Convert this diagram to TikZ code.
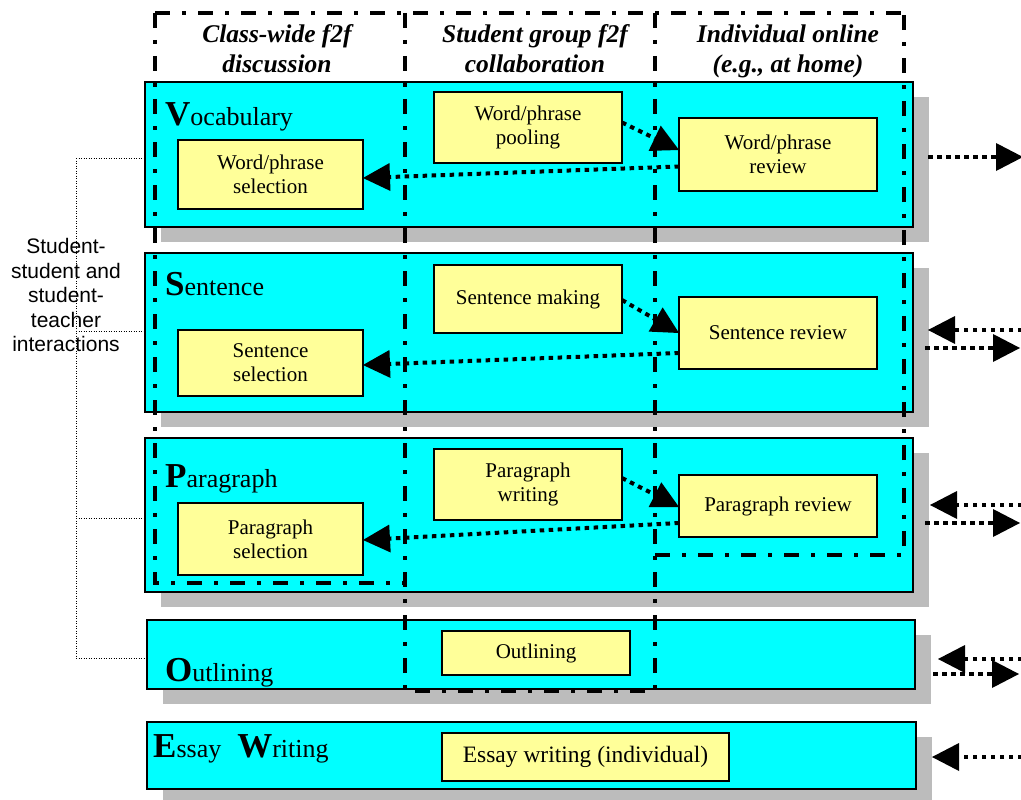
\documentclass[tikz,border=0pt]{standalone}
\usepackage{fontspec}
\setmainfont{Liberation Serif}
\newfontfamily\sansf{Liberation Sans}
\usetikzlibrary{arrows.meta,calc,shadows}
\definecolor{bandcyan}{RGB}{0,255,255}
\definecolor{boxyellow}{RGB}{255,255,153}
\definecolor{shadowgray}{RGB}{188,188,188}
\begin{document}
\begin{tikzpicture}[x=1pt,y=-1pt,
 band/.style={draw=black, line width=1.5pt, fill=bandcyan, inner sep=0pt, outer sep=0pt,
   drop shadow={shadow xshift=16pt, shadow yshift=-15pt, fill=shadowgray, opacity=1}},
 ybox/.style={draw=black, line width=1.5pt, fill=boxyellow, inner sep=0pt, outer sep=0pt,
   align=center, font=\fontsize{21}{24}\selectfont},
 frameline/.style={line width=4.5pt, dash pattern=on 15pt off 12pt on 4pt off 12pt},
 flow/.style={line width=4pt, dash pattern=on 4.5pt off 4.5pt,
   -{Triangle[length=27pt,width=28pt,line width=0pt]}},
 linkline/.style={line width=0.8pt, dash pattern=on 1pt off 1.5pt},
 hdr/.style={align=center, font=\fontsize{25.5}{30}\selectfont\bfseries\itshape, inner sep=0pt},
 bandtitle/.style={anchor=base west, inner sep=0pt, font=\fontsize{26}{30}\selectfont},
]
\useasboundingbox (0,0) rectangle (1021,800);

% bands
\node[band, minimum width=768pt, minimum height=145pt] (bv) at (529,154.5) {};
\node[band, minimum width=768pt, minimum height=159pt] (bs) at (529,332.5) {};
\node[band, minimum width=768pt, minimum height=154pt] (bp) at (529,515) {};
\node[band, minimum width=768pt, minimum height=69pt] (bo) at (531,654.5) {};
\node[band, minimum width=769pt, minimum height=67pt] (be) at (531.5,755.5) {};

% yellow boxes
\node[ybox, minimum width=188pt, minimum height=71pt] (wpool) at (528,127.5) {Word/phrase\\pooling};
\node[ybox, minimum width=198pt, minimum height=73pt] (wrev) at (778,154.5) {Word/phrase\\review};
\node[ybox, minimum width=185pt, minimum height=69pt] (wsel) at (270.5,174.5) {Word/phrase\\selection};
\node[ybox, minimum width=188pt, minimum height=68pt] (smak) at (528,299) {Sentence making};
\node[ybox, minimum width=198pt, minimum height=72pt] (srev) at (778,333) {Sentence review};
\node[ybox, minimum width=185pt, minimum height=66pt] (ssel) at (270.5,363) {Sentence\\selection};
\node[ybox, minimum width=188pt, minimum height=71pt] (pwri) at (528,484.5) {Paragraph\\writing};
\node[ybox, minimum width=198pt, minimum height=62pt] (prev) at (778,506) {Paragraph review};
\node[ybox, minimum width=185pt, minimum height=72pt] (psel) at (270.5,539) {Paragraph\\selection};
\node[ybox, minimum width=188pt, minimum height=44pt] (outl) at (536,653) {Outlining};
\node[ybox, minimum width=287pt, minimum height=48pt, font=\fontsize{23.5}{27}\selectfont] (essw) at (585.5,757) {Essay writing (individual)};

% dash-dot setting frames
\draw[frameline] (155,13) -- (904,13);
\draw[frameline] (155,13) -- (155,583) -- (405,583);
\draw[frameline] (405,13) -- (405,691) -- (655,691);
\draw[frameline] (655,13) -- (655,691);
\draw[frameline] (655,555) -- (904,555) -- (904,13);

% flows inside rows
\draw[flow] ($(wpool.east)+(0,-5)$) -- ($(wrev.west)+(0,-4.5)$);
\draw[flow] ($(wrev.west)+(0,12)$) -- ($(wsel.east)+(0,3.5)$);
\draw[flow] ($(smak.east)+(0,1)$) -- (srev.west);
\draw[flow] ($(srev.west)+(0,20)$) -- ($(ssel.east)+(0,2)$);
\draw[flow] ($(pwri.east)+(0,-6.5)$) -- ($(prev.west)+(0,1)$);
\draw[flow] ($(prev.west)+(0,17)$) -- ($(psel.east)+(0,1)$);

% flows at the right edge
\coordinate (v1) at (928,157); \coordinate (v2) at (1023,157);
\coordinate (s1) at (1022,330); \coordinate (s2) at (928,330);
\coordinate (s3) at (925,348); \coordinate (s4) at (1020,348);
\coordinate (p1) at (1022,505); \coordinate (p2) at (930,505);
\coordinate (p3) at (925,523); \coordinate (p4) at (1020,523);
\coordinate (o1) at (1022,659); \coordinate (o2) at (938,659);
\coordinate (o3) at (933,674); \coordinate (o4) at (1019,674);
\coordinate (e1) at (1022,757); \coordinate (e2) at (932,757);
\draw[flow] (v1) -- (v2);
\draw[flow] (s1) -- (s2);
\draw[flow] (s3) -- (s4);
\draw[flow] (p1) -- (p2);
\draw[flow] (p3) -- (p4);
\draw[flow] (o1) -- (o2);
\draw[flow] (o3) -- (o4);
\draw[flow] (e1) -- (e2);

% interaction bracket
\coordinate (lk1) at (76,158);
\coordinate (lk2) at (76,331);
\coordinate (lk3) at (76,518);
\coordinate (lk4) at (76,658);
\draw[linkline] (lk1) -- (lk4);
\draw[linkline] (lk1) -- (lk1 -| bv.west);
\draw[linkline] (lk2) -- (lk2 -| bs.west);
\draw[linkline] (lk3) -- (lk3 -| bp.west);
\draw[linkline] (lk4) -- (lk4 -| bo.west);
\node[font=\sansf\fontsize{21}{24.5}\selectfont, align=center, inner sep=0pt] (inter) at (66,295)
  {Student-\\student and\\student-\\teacher\\interactions};

% column headers
\node[hdr] (hcw) at (277,48.5) {Class-wide f2f\\discussion};
\node[hdr] (hsg) at (535,48.5) {Student group f2f\\collaboration};
\node[hdr] (hio) at (788,51) {Individual online\\(e.g., at home)};

% band titles
\node[bandtitle] (tv) at (165,125) {{\fontsize{35}{40}\selectfont\bfseries V}ocabulary};
\node[bandtitle] (ts) at (165,295) {{\fontsize{35}{40}\selectfont\bfseries S}entence};
\node[bandtitle] (tp) at (165,487) {{\fontsize{35}{40}\selectfont\bfseries P}aragraph};
\node[bandtitle] (to) at (165,681) {{\fontsize{35}{40}\selectfont\bfseries O}utlining};
\node[bandtitle] (te) at (153,757) {{\fontsize{35}{40}\selectfont\bfseries E}ssay\hspace{16pt}{\fontsize{35}{40}\selectfont\bfseries W}riting};
\end{tikzpicture}
\end{document}
